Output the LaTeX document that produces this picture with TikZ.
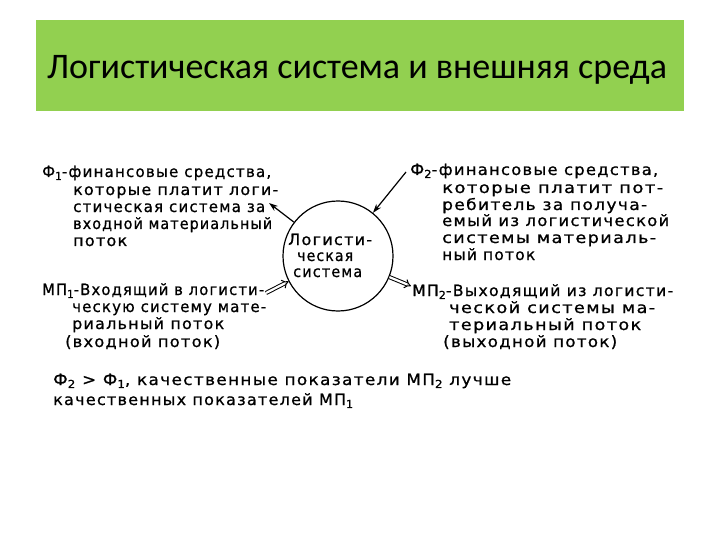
\documentclass[tikz,border=0pt]{standalone}
\usepackage{fontspec}
\usepackage{graphicx}
\setmainfont{DejaVu Sans}[LetterSpace=8,FakeBold=0.8]
\newfontfamily\titlefont{Carlito}
\usetikzlibrary{arrows.meta}
\definecolor{bannergreen}{HTML}{92D050}
\newcommand{\lowsub}[1]{\raisebox{-0.35ex}{\fontsize{11}{11}\selectfont #1}}
\newcommand{\fitw}[2]{\resizebox{#1pt}{\height}{#2}}
\tikzset{
  hand/.style={anchor=base west, inner sep=0pt, font=\fontsize{15.5}{17}\selectfont},
  arr/.style={line width=1.2pt, -{Stealth[length=9pt,width=6pt]}},
  dblarr/.style={double, double distance=2.2pt, line width=1pt, -{Implies}},
}
\begin{document}
\begin{tikzpicture}[x=1pt,y=-1pt]
\useasboundingbox (0,0) rectangle (720,540);
\fill[white] (0,0) rectangle (720,540);
\fill[bannergreen] (36,20) rectangle (684,111);
\node[font=\titlefont\fontsize{36}{40}\selectfont] (title) at (357,70) {Логистическая система и внешняя среда};

\node[circle, draw, line width=1.2pt, minimum size=110pt, inner sep=0pt] (sys) at (338,256) {};
\node[hand] (s1) at (288,245) {\fitw{84}{Логисти-}};
\node[hand] (s2) at (297,261) {\fitw{56}{ческая}};
\node[hand] (s3) at (293,277) {\fitw{69}{система}};

% F1 block
\node[hand] (f1a) at (42,177) {\fitw{229}{Ф\lowsub{1}-финансовые средства,}};
\node[hand] (f1b) at (73,195) {\fitw{205}{которые платит логи-}};
\node[hand] (f1c) at (73,212) {\fitw{192}{стическая система за}};
\node[hand] (f1d) at (73,229) {\fitw{199}{входной материальный}};
\node[hand] (f1e) at (73,246) {\fitw{54}{поток}};

% F2 block
\node[hand] (f2a) at (410,175) {\fitw{248}{Ф\lowsub{2}-финансовые средства,}};
\node[hand] (f2b) at (442,193) {\fitw{221}{которые платит пот-}};
\node[hand] (f2c) at (442,210) {\fitw{205}{ребитель за получа-}};
\node[hand] (f2d) at (442,226) {\fitw{227}{емый из логистической}};
\node[hand] (f2e) at (442,243) {\fitw{214}{системы материаль-}};
\node[hand] (f2f) at (442,260) {\fitw{93}{ный поток}};

% MP1 block
\node[hand] (m1a) at (42,295) {\fitw{222}{МП\lowsub{1}-Входящий в логисти-}};
\node[hand] (m1b) at (72,312) {\fitw{194}{ческую систему мате-}};
\node[hand] (m1c) at (72,329) {\fitw{152}{риальный поток}};
\node[hand] (m1d) at (65,347) {\fitw{155}{(входной поток)}};

% MP2 block
\node[hand] (m2a) at (412,296) {\fitw{261}{МП\lowsub{2}-Выходящий из логисти-}};
\node[hand] (m2b) at (449,313) {\fitw{206}{ческой системы ма-}};
\node[hand] (m2c) at (449,330) {\fitw{192}{териальный поток}};
\node[hand] (m2d) at (443,347) {\fitw{174}{(выходной поток)}};

% bottom
\node[hand] (b1) at (53,385) {\fitw{458}{Ф\lowsub{2} > Ф\lowsub{1}, качественные показатели МП\lowsub{2} лучше}};
\node[hand] (b2) at (53,405) {\fitw{300}{качественных показателей МП\lowsub{1}}};

\coordinate (p1) at (269,203);
\coordinate (p2) at (406,172);
\coordinate (p3) at (266,293);
\coordinate (p4) at (411,286);
\draw[arr] (sys) -- (p1);
\draw[arr] (p2) -- (sys);
\draw[dblarr] (p3) -- (sys);
\draw[dblarr] (sys) -- (p4);
\end{tikzpicture}
\end{document}
